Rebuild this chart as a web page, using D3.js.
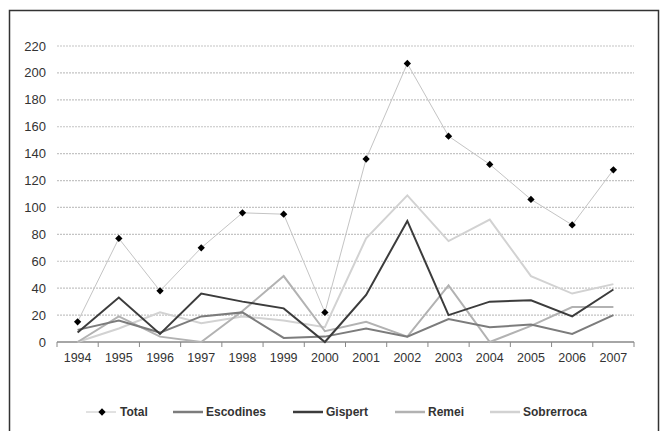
<!DOCTYPE html>
<html>
<head>
<meta charset="utf-8">
<script src="https://cdn.jsdelivr.net/npm/d3@7"></script>
<style>
  body { margin: 0; background: #fff; }
  svg { display: block; font-family: "Liberation Sans", Arial, sans-serif; }
</style>
</head>
<body>
<div id="chart"></div>
<script>
// categories and series
const years = ["1994", "1995", "1996", "1997", "1998", "1999", "2000",
  "2001", "2002", "2003", "2004", "2005", "2006", "2007"];
const total = [15, 77, 38, 70, 96, 95, 22, 136, 207, 153, 132, 106, 87, 128];
const escodines = [9, 16, 7, 19, 22, 3, 4, 10, 4, 17, 11, 13, 6, 20];
const gispert = [7, 33, 6, 36, 30, 25, 0, 35, 90, 20, 30, 31, 19, 39];
const remei = [0, 19, 4, 0, 23, 49, 8, 15, 4, 42, 0, 12, 26, 26];
const sobrerroca = [0, 10, 22, 14, 19, 16, 11, 77, 109, 75, 91, 49, 36, 43];
const yTicks = [0, 20, 40, 60, 80, 100, 120, 140, 160, 180, 200, 220];

(function () {
  const W = 667, H = 431;
  const margin = { top: 46, right: 33, bottom: 89, left: 57 };

  const svg = d3.select("#chart").append("svg")
    .attr("width", W)
    .attr("height", H);

  // outer frame (bottom edge runs past the picture)
  svg.append("rect")
    .attr("x", 9.5).attr("y", 10.5)
    .attr("width", 649).attr("height", 440)
    .attr("fill", "none")
    .attr("stroke", "#333")
    .attr("stroke-width", 1.5);

  const x = d3.scaleBand()
    .domain(years)
    .range([margin.left, W - margin.right])
    .padding(0);

  const y = d3.scaleLinear()
    .domain([0, 220])
    .range([H - margin.bottom, margin.top]);

  const cx = d => x(d) + x.bandwidth() / 2;

  // gridlines
  svg.append("g")
    .selectAll("line")
    .data(yTicks.filter(d => d > 0))
    .join("line")
    .attr("x1", margin.left).attr("x2", W - margin.right)
    .attr("y1", d => y(d)).attr("y2", d => y(d))
    .attr("stroke", "#c4c4c4")
    .attr("stroke-width", 1.2)
    .attr("stroke-dasharray", "2,1");

  // y labels
  svg.append("g")
    .selectAll("text")
    .data(yTicks)
    .join("text")
    .attr("x", 46)
    .attr("y", d => y(d))
    .attr("dy", "0.35em")
    .attr("text-anchor", "end")
    .attr("font-size", 13)
    .attr("fill", "#333")
    .text(d => d);

  // x axis line with ticks between categories
  const base = y(0);
  svg.append("line")
    .attr("x1", margin.left).attr("x2", W - margin.right)
    .attr("y1", base).attr("y2", base)
    .attr("stroke", "#888").attr("stroke-width", 1.5);

  const edges = years.map(d => x(d)).concat([W - margin.right]);
  svg.append("g")
    .selectAll("line")
    .data(edges)
    .join("line")
    .attr("x1", d => d).attr("x2", d => d)
    .attr("y1", base).attr("y2", base + 5)
    .attr("stroke", "#888").attr("stroke-width", 1);

  svg.append("g")
    .selectAll("text")
    .data(years)
    .join("text")
    .attr("x", d => cx(d))
    .attr("y", base + 20)
    .attr("text-anchor", "middle")
    .attr("font-size", 12.5)
    .attr("fill", "#333")
    .text(d => d);

  // series
  const series = [
    { name: "Sobrerroca", values: sobrerroca, color: "#d2d2d2", width: 2 },
    { name: "Remei", values: remei, color: "#b2b2b2", width: 2 },
    { name: "Escodines", values: escodines, color: "#7c7c7c", width: 2 },
    { name: "Gispert", values: gispert, color: "#3c3c3c", width: 2 },
    { name: "Total", values: total, color: "#c4c4c4", width: 1, marker: true }
  ];

  const line = d3.line()
    .x((v, i) => cx(years[i]))
    .y(v => y(v));

  series.forEach(s => {
    svg.append("path")
      .datum(s.values)
      .attr("d", line)
      .attr("fill", "none")
      .attr("stroke", s.color)
      .attr("stroke-width", s.width)
      .attr("stroke-linejoin", "miter");
  });

  const diamond = d3.symbol().type(d3.symbolDiamond2).size(34);
  svg.append("g")
    .selectAll("path")
    .data(total)
    .join("path")
    .attr("transform", (v, i) => `translate(${cx(years[i])},${y(v)})`)
    .attr("d", diamond)
    .attr("fill", "#000");

  // legend
  const legendItems = [
    { name: "Total", color: "#c4c4c4", width: 1, marker: true, x: 86 },
    { name: "Escodines", color: "#7c7c7c", width: 2.5, x: 173 },
    { name: "Gispert", color: "#3c3c3c", width: 2.5, x: 293 },
    { name: "Remei", color: "#b2b2b2", width: 2.5, x: 395 },
    { name: "Sobrerroca", color: "#d2d2d2", width: 2.5, x: 490 }
  ];
  const ly = 412;
  const legend = svg.append("g");
  const item = legend.selectAll("g")
    .data(legendItems)
    .join("g")
    .attr("transform", d => `translate(${d.x},${ly})`);
  item.append("line")
    .attr("x1", 0).attr("x2", 30)
    .attr("stroke", d => d.color)
    .attr("stroke-width", d => d.width);
  item.filter(d => d.marker)
    .append("path")
    .attr("transform", "translate(16,0)")
    .attr("d", diamond)
    .attr("fill", "#000");
  item.append("text")
    .attr("x", d => d.marker ? 34 : 33)
    .attr("dy", "0.35em")
    .attr("font-size", 12)
    .attr("font-weight", "bold")
    .attr("fill", "#333")
    .text(d => d.name);
}());
</script>
</body>
</html>
